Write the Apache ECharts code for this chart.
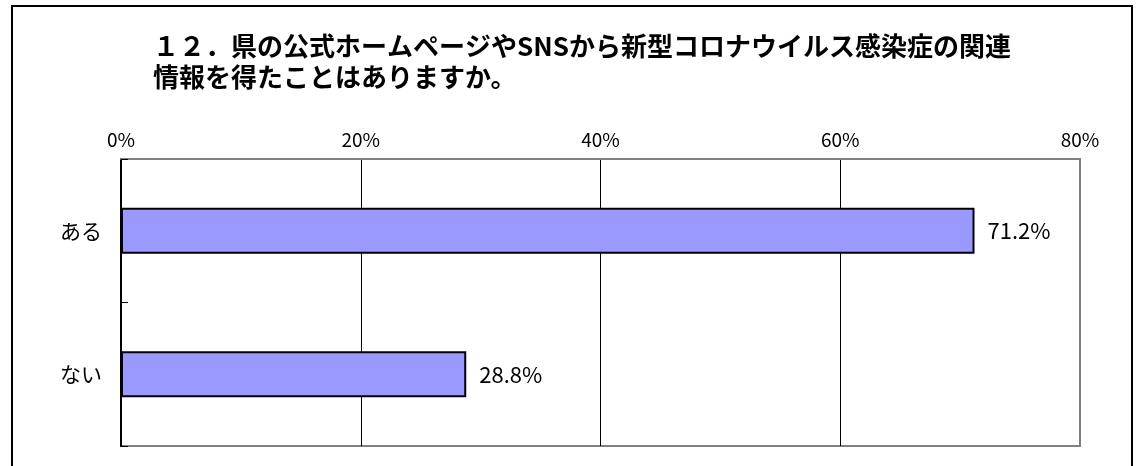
<!DOCTYPE html>
<html lang="ja">
<head>
<meta charset="utf-8">
<title>県の公式ホームページやSNS</title>
<script src="https://cdn.jsdelivr.net/npm/echarts@6/dist/echarts.min.js"></script>
<style>
  html, body { margin: 0; padding: 0; background: #fff; }
  #chart { width: 1141px; height: 466px; }
</style>
</head>
<body>
<div id="chart"></div>
<script>
  // data
  const categories = ['ある', 'ない']
  const values = [71.2, 28.8]
  const tickMin = 0
  const tickMax = 80
  const tickStep = 20
  const titleText = '１２．県の公式ホームページやSNSから新型コロナウイルス感染症の関連\n情報を得たことはありますか。'

  const jp = '"Noto Sans CJK JP", sans-serif'

  let myChart = echarts.init(document.getElementById('chart'))
  myChart.setOption({
    backgroundColor: '#fff',
    animation: false,
    title: {
      text: titleText,
      left: 153,
      top: 31,
      padding: 0,
      textStyle: {
        fontFamily: jp,
        fontSize: 26,
        fontWeight: 'bold',
        lineHeight: 31,
        color: '#000'
      }
    },
    graphic: [
      {
        type: 'rect',
        shape: { x: 12, y: 6, width: 1120, height: 480 },
        style: { fill: 'none', stroke: '#000', lineWidth: 2 },
        silent: true
      }
    ],
    grid: {
      left: 121,
      right: 61,
      top: 159,
      bottom: 20,
      show: true,
      borderColor: '#808080',
      borderWidth: 2,
      containLabel: false // 位置は固定
    },
    xAxis: {
      type: 'value',
      position: 'top',
      min: tickMin,
      max: tickMax,
      interval: tickStep,
      axisLabel: {
        formatter: '{value}%',
        margin: 10,
        fontFamily: jp,
        fontSize: 19,
        color: '#000'
      },
      axisLine: {
        show: true,
        lineStyle: { color: '#808080', width: 2 }
      },
      axisTick: { show: false },
      splitLine: {
        show: true,
        showMinLine: false,
        showMaxLine: false,
        lineStyle: { color: '#000', width: 1 }
      }
    },
    yAxis: {
      type: 'category',
      data: categories,
      inverse: true,
      axisLabel: {
        margin: 19,
        fontFamily: jp,
        fontSize: 21,
        color: '#000'
      },
      axisLine: {
        show: true,
        lineStyle: { color: '#000', width: 2 }
      },
      axisTick: {
        show: true,
        inside: true,
        length: 7,
        lineStyle: { color: '#000', width: 1 }
      }
    },
    series: [
      {
        type: 'bar',
        data: values,
        barWidth: 46,
        itemStyle: {
          color: '#9999ff',
          borderColor: '#000',
          borderWidth: 2
        },
        label: {
          show: true,
          position: 'right',
          distance: 13,
          formatter: '{c}%',
          fontFamily: jp,
          fontSize: 22,
          color: '#000'
        }
      }
    ]
  })
  window.onresize = function() {
    myChart.resize()
  }
</script>
</body>
</html>
